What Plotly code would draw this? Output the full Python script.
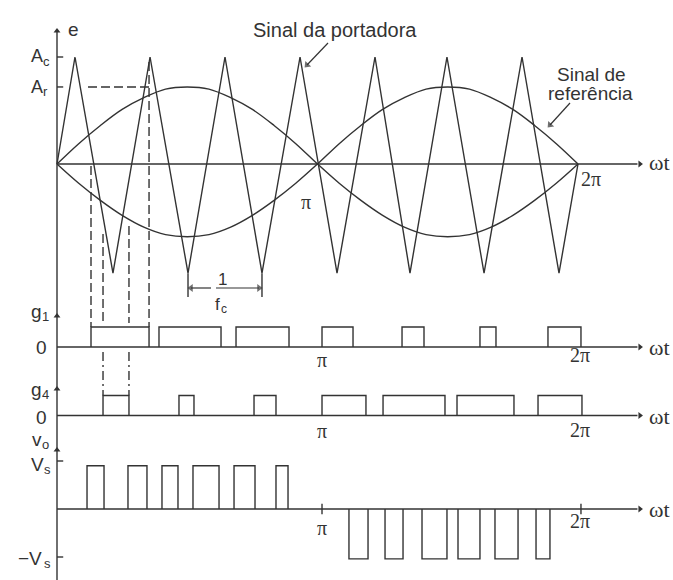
import math
import plotly.graph_objects as go

# ---------------- data (ωt in radians) ----------------
# carrier (triangle) vertices
carrier_wt = [0.0, 0.217, 0.675, 1.122, 1.580, 2.026, 2.472, 2.931, 3.377,
              3.835, 4.257, 4.703, 5.150, 5.608, 6.054, 6.283]
carrier_e = [0.0, 1.0, -1.02, 1.0, -1.02, 1.0, -1.02, 1.0, -1.02,
             1.0, -1.02, 1.0, -1.02, 1.0, -1.02, 0.0]

# reference sinusoid read every 15 degrees over one half period
ref_angle_deg = [0, 15, 30, 45, 60, 75, 90, 105, 120, 135, 150, 165, 180]
ref_upper = [0.0, 0.19, 0.36, 0.51, 0.62, 0.70, 0.72, 0.70, 0.62, 0.51, 0.36, 0.19, 0.0]
ref_lower = [0.0, -0.18, -0.34, -0.48, -0.59, -0.66, -0.68, -0.66, -0.59, -0.48, -0.34, -0.18, 0.0]

Ac_level = 1.0
Ar_level = 0.72
e_ticks = [Ac_level, Ar_level]
e_tick_text = [("A", "c"), ("A", "r")]

# gate signal g1
g1_on = [0.410, 1.230, 2.159, 3.196, 4.161, 5.101, 5.921]
g1_off = [1.110, 1.978, 2.798, 3.570, 4.426, 5.294, 6.319]
# gate signal g4
g4_on = [0.555, 1.471, 2.376, 3.196, 3.932, 4.824, 5.801]
g4_off = [0.868, 1.652, 2.641, 3.726, 4.679, 5.511, 6.331]
g_level = 1.0

# output voltage vo
vo_pos_on = [0.362, 0.856, 1.266, 1.640, 2.135, 2.641]
vo_pos_off = [0.567, 1.085, 1.459, 1.954, 2.388, 2.786]
vo_neg_on = [3.521, 3.956, 4.402, 4.836, 5.282, 5.777]
vo_neg_off = [3.751, 4.173, 4.703, 5.101, 5.560, 5.945]
vo_high = 0.90
vo_low = -1.04
vo_ticks = [1.0, -1.0]
vo_tick_text = [("V", "s"), ("−V", "s")]
vo_pi_ticks = [3.196, 6.319]

# ---------------- layout helpers ----------------
W, H = 673, 580
X0PX, PXR = 57.0, 82.92          # pixel of ωt = 0, pixels per radian
XMIN = -X0PX / PXR
XMAX = (W - X0PX) / PXR
AXIS_END = 7.0
C = "#333333"
LW = 1.4
SANS = "Liberation Sans, Arial, sans-serif"
SERIF = "Liberation Serif, Times New Roman, serif"

# panels: axis id -> (baseline pixel, pixels per unit)
panels = {"y": (164.0, 107.0), "y2": (347.0, 20.0), "y3": (415.5, 20.0), "y4": (509.0, 48.0)}


def yrange(base, unit):
    return [(base - H) / unit, base / unit]


def to_top(py):
    base, unit = panels["y"]
    return (base - py) / unit


def to_x(px):
    return (px - X0PX) / PXR


def P(px, py):
    return px / W, 1 - py / H


def pulses(on, off, level):
    xs, ys = [], []
    for a, b in zip(on, off):
        xs += [a, a, b, b, None]
        ys += [0, level, level, 0, None]
    return xs, ys


fig = go.Figure()


def line(xs, ys, axis="y", dash=None, width=LW, shape="linear"):
    fig.add_trace(go.Scatter(x=xs, y=ys, mode="lines", yaxis=axis,
                             line=dict(color=C, width=width, dash=dash, shape=shape),
                             hoverinfo="skip", showlegend=False))


def arrow_marker(x, y, axis, symbol):
    fig.add_trace(go.Scatter(x=[x], y=[y], mode="markers", yaxis=axis,
                             marker=dict(symbol=symbol, size=6, color=C, line=dict(width=0)),
                             hoverinfo="skip", showlegend=False))


def leader(tail, tip, width=1.2):
    """Pointer line with arrowhead, given in pixel positions of the top panel."""
    x0, y0 = to_x(tail[0]), to_top(tail[1])
    x1, y1 = to_x(tip[0]), to_top(tip[1])
    fig.add_trace(go.Scatter(x=[x0, x1], y=[y0, y1], mode="lines+markers", yaxis="y",
                             line=dict(color=C, width=width),
                             marker=dict(symbol="triangle-up", size=[0, 7], color=C,
                                         angleref="previous", line=dict(width=0)),
                             hoverinfo="skip", showlegend=False))


# ---- axes drawn by hand ----
line([0, 0], [to_top(30), to_top(H)], "y")
for ax_id, arrow_py in [("y", 31), ("y2", 316), ("y3", 389), ("y4", 450)]:
    base, unit = panels[ax_id]
    line([0, AXIS_END], [0, 0], ax_id)
    arrow_marker(AXIS_END + 0.03, 0, ax_id, "triangle-right")
    arrow_marker(0, (base - arrow_py) / unit, ax_id, "triangle-up")

# ticks on e axis
for v in e_ticks:
    line([0, 0.075], [v, v], "y")
# ticks on vo axis
for v in vo_ticks:
    line([0, 0.075], [v, v], "y4")
for t in vo_pi_ticks:
    line([t, t], [-0.11, 0.11], "y4")

# ---- top panel: carrier + reference ----
half1 = [d * math.pi / 180 for d in ref_angle_deg]
half2 = [math.pi + d * math.pi / 180 for d in ref_angle_deg]
line(half1 + half2[1:], ref_upper + ref_lower[1:], "y", shape="spline")
line(half1 + half2[1:], ref_lower + ref_upper[1:], "y", shape="spline")
line(carrier_wt, carrier_e, "y")

# Ar dashed horizontal
line([0.374, g1_off[0] + 0.01], [Ar_level, Ar_level], "y", dash="9px,4px")

# vertical guide lines
g1_top_py = panels["y2"][0] - g_level * panels["y2"][1]
g1_base_py = panels["y2"][0]
g4_top_py = panels["y3"][0] - g_level * panels["y3"][1]
line([g1_on[0]] * 2, [to_top(166), to_top(g1_top_py)], "y", dash="9px,4px")
line([g1_off[0]] * 2, [to_top(62), to_top(g1_top_py)], "y", dash="9px,4px")
for x, top_py in [(g4_on[0], 234), (g4_off[0], 226)]:
    line([x, x], [to_top(top_py), to_top(g1_top_py - 4)], "y", dash="9px,4px")
    line([x, x], [to_top(g1_base_py + 5), to_top(g4_top_py)], "y", dash="9px,4px,2px,4px")

# 1/fc marks
p0, p1 = carrier_wt[4], carrier_wt[6]
for x in (p0, p1):
    line([x, x], [-1.02, to_top(297)], "y")
leader((211, 288), (191, 288))
leader((216, 288), (259, 288))

# pointers to the signals
leader((328, 43), (307, 65))
leader((570, 103), (550, 125))

# ---- pulse trains ----
xs, ys = pulses(g1_on, g1_off, g_level)
line(xs, ys, "y2")
xs, ys = pulses(g4_on, g4_off, g_level)
line(xs, ys, "y3")
xs, ys = pulses(vo_pos_on, vo_pos_off, vo_high)
line(xs, ys, "y4")
xs, ys = pulses(vo_neg_on, vo_neg_off, vo_low)
line(xs, ys, "y4")

# ---- annotations ----
ann = []


def text(px, py, s, size=18, font=SANS):
    x, y = P(px, py)
    ann.append(dict(x=x, y=y, xref="paper", yref="paper", text=s, showarrow=False,
                    xanchor="center", yanchor="middle",
                    font=dict(family=font, size=size, color=C)))


def subtext(px, py, main, sub, size, sub_px, sub_py, sub_size=13):
    text(px, py, main, size)
    text(sub_px, sub_py, sub, sub_size)


text(73, 29, "e", 19)
subtext(37, 56, *e_tick_text[0], 18, 46.5, 61)
subtext(37, 87, *e_tick_text[1], 18, 45.5, 92)
text(335, 30, "Sinal da portadora", 20)
text(591, 75, "Sinal de", 19)
text(590, 93, "referência", 19)
text(306, 202, "π", 20, SERIF)
text(591, 179, "2π", 20, SERIF)
for py in (163, 347, 416, 509):
    text(659, py, "ωt", 22, SERIF)

text(222, 279, "1", 17)
subtext(217, 304, "f", "c", 17, 224, 309, 12)

subtext(36, 311, "g", "1", 19, 45.5, 316)
text(41, 347, "0", 19)
text(322, 360, "π", 20, SERIF)
text(580, 355, "2π", 20, SERIF)

subtext(36, 389, "g", "4", 19, 45.5, 394)
text(41, 417, "0", 19)
text(322, 431, "π", 20, SERIF)
text(580, 430, "2π", 20, SERIF)

subtext(36.5, 439, "v", "o", 19, 46, 444)
subtext(37.5, 464, *vo_tick_text[0], 19, 47, 469)
subtext(30, 558, *vo_tick_text[1], 19, 47, 563)
text(322, 528, "π", 20, SERIF)
text(580, 521, "2π", 20, SERIF)

layout = dict(
    width=W, height=H, margin=dict(l=0, r=0, t=0, b=0),
    paper_bgcolor="white", plot_bgcolor="white", showlegend=False,
    xaxis=dict(range=[XMIN, XMAX], visible=False, fixedrange=True),
    annotations=ann,
)
for ax_id, (base, unit) in panels.items():
    key = "yaxis" if ax_id == "y" else "yaxis" + ax_id[1:]
    d = dict(range=yrange(base, unit), visible=False, fixedrange=True)
    if ax_id != "y":
        d["overlaying"] = "y"
    layout[key] = d
fig.update_layout(**layout)

fig.write_html("out.html", config={"displayModeBar": False},
               post_script="document.body.style.margin='0';")
